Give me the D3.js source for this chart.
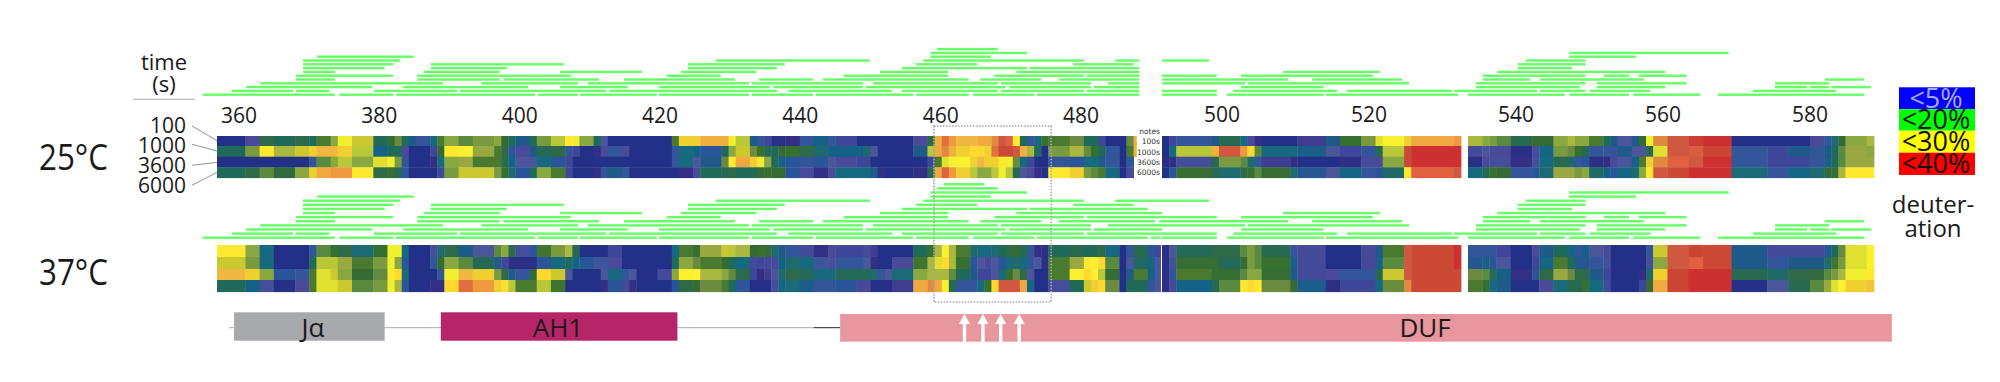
<!DOCTYPE html>
<html><head><meta charset="utf-8">
<script src="https://cdnjs.cloudflare.com/ajax/libs/d3/7.8.5/d3.min.js"></script>
<style>html,body{margin:0;padding:0;background:#fff}svg{display:block}text{font-family:"Open Sans",sans-serif;fill:#1a1a1a}</style>
</head><body><div id="c"></div>
<script>
// ---------- DATA ----------
const residueTicks=[360,380,400,420,440,460,480,500,520,540,560,580];
const timeLabels=["100","1000","3600","6000"];
const noteLabels=["notes","100s","1000s","3600s","6000s"];
const segmentStarts=[357,490,533];
const legendLabels=["<5%","<20%","<30%","<40%"];
const domains=[{name:"Jα",from:359.4,to:380.6},{name:"AH1",from:388.5,to:421.8},{name:"DUF",from:444.7,to:592.5}];
const linkerSpans=[[358.7,359.4],[380.6,388.5],[421.8,441]];
const linkerDark=[441,444.7];
const arrowResidues=[462.2,464.8,467.3,469.9];
const boxSpan=[457.9,474.4];

// deuteration (%), written as value,run pairs per residue; one list per contiguous block
const d25_100=[[0,4,3,2,14,2,12,3,14,2,12,1,17,2,21,1,27,2,25,3,12,2,15,1,19,1,12,1,8,1,6,2,10,1,17,1,21,2,18,2,20,3,21,1,15,1,12,1,8,2,12,1,20,2,24,2,28,1,27,1,21,2,12,1,5,1,0,9,17,1,29,3,31,4,27,1,24,2,8,1,6,1,4,1,1,2,2,2,6,2,9,2,6,1,4,3,0,8,3,2,14,1,31,1,35,1,33,1,30,3,32,2,34,1,37,1,36,1,28,1,12,1,6,1,10,1,16,1,17,3,19,2,12,2,4,1,0,3,19,1,31,0.4],
[0,1,4,1,6,5,8,1,13,3,10,1,3,1,2,1,0,5,2.5,4,8,2,16,3,20,2,26,1,27.5,3,29,1,32,6,33,1],
[23,2,21,1,20,1,18,2,13,3,15,3,21,2,23,1,21,2,17,2,12,1,8,1,5,2,8,1,15,1,27,1,34,2,37,3,39,2,40,4,0,11,3,2,6,1,11,1,15,1,21,3,23,1]];
const d25_1000=[[12,4,20,2,28,2,23,3,25,2,29,1,30,3,29,2,24,3,9,2,12,2,3,1,0,3,4,1,15,1,28,2,27.5,2,22,3,17,1,14,1,7,1,3,2,8,1,13,2,14,2,6,1,4,1,0,2,2,1,3,1,6,2,3,1,0,6,6,1,10,2,9,1,7,3,12,1,21,1,25,2,19,1,16,1,13,1,12,1,15,1,16,2,14,2,11,2,9,5,11,1,5,1,0,5,8,2,24,1,32,1,34,1,31,1,29,2,28.5,2,29,1,35,1,38,2,37,1,31,1,23,1,12,1,0,1,20,3,23,2,19,1,16,1,12,1,6,2,0,1,17,1,31,0.4],
[0,1,10,1,24,5,31,1,37,3,33,1,28.5,1,18,1,10,5,8.5,4,5,2,4,3,6,2,13,1,24,3,38,1,40,7],
[3.5,2,5,1,3,3,1,3,3,1,9.5,2,20,2,19,1,16,1,13,1,6,2,6,2,8,2,5,2,13,1,26,2,37,3,36.5,2,38.5,4,6,5,4,3,8,3,6,2,8,1,12,1,18,1,22,3,21,1]];
const d25_3600=[[0,13,6,1,18,2,21,1,24,2,21,3,26,2,27,1,20,1,6,1,0,3,2,1,10,1,21,2,22,2,17,4,14,1,9,1,5,3,10,2,7,2,4,1,0,14,6,1,10,2,5,1,8,3,19,1,28,1,32,2,29,1,28,1,21,1,12,1,9,1,7,2,6,2,7,2,5,1,3,3,4,2,0,8,4,1,17,1,26,1,27.5,3,29,1,30,1,29,2,28,1,27,1,19,1,10,1,4,1,0,2,6,3,7,2,10,2,8,1,6,2,0,1,6,1],
[1,1,2,1,4.5,5,13,1,20,3,18,1,11,1,6,1,2.5,4,2,1,0,6,1.5,3,3,3,21,3,38,1,40,7],
[1,2,3,1,4.5,3,2,3,4.5,1,10,2,13,2,11,1,6,1,7,1,1,2,2,1,3,1,5,2,9,1,17,1,29,1,34,2,36,3,37,2,40,4,6,5,4,6,6,2,8.5,1,12,1,18,1,22,4]];
const d25_6000=[[12,4,14,2,18,2,14.5,3,21,2,29,1,32,2,33,3,28,3,14,2,16,1,13,1,6,1,0,4,4,1,20,2,25,5,20,1,16,1,11,1,7,2,12,1,21,2,17,2,4,1,0,3,2,1,6,1,8,2,6,1,0,7,2,2,3,1,12,3,13,1,14,1,12,3,15,1,16,1,15,2,7,2,3,2,2,2,3,1,10,4,10,1,8,1,2,1,0,4,2,2,13,1,32,1,36,1,33,1,29,2,24,1,21,2,24,1,27,1,24,1,13,1,5,1,3,1,2,1,0,1,28,3,29,2,20,1,18,1,17,1,10,2,0,1,3,1],
[0,1,7,1,15.5,5,13,1,11,3,14,1,16,1,18,1,15.5,4,11,1,7.5,4,5,2,9.5,3,6,2,7,1,11.5,3,28,1,36,6,37,1],
[10,2,12,1,16,1,15,2,6,3,7,1,11,2,22,3,20,1,21,1,11.5,2,9,1,7,1,9.5,2,11,1,21,1,28,1,37,2,38,3,40,6,10.5,5,6,3,9.5,3,11,2,14,1,16,1,23,1,28,4]];

const d37_100=[[28,4,21,2,10,2,0,5,6,1,18,2,16,1,14,2,10.5,3,16,2,27,2,10,1,0,3,4.5,1,11,1,14,2,8,2,5,3,18,1,21,1,14,1,4.5,2,7,1,16.5,2,20,2,23,1,13,1,0,4,4,2,0,7,10,1,17,2,16,1,22,3,25,1,24,1,23,2,15,1,16,1,15,1,11,1,8,1,6,2,3.5,2,2,2,3,1,4,4,3,1,2.5,1,0,5,12,2,16,1,23,1,27.5,1,23,1,17,2,11,1,10,2,11,1,12,1,14,1,15,1,13,1,6,1,2,1,1.5,1,12,3,13,2,12,2,14,1,10,2,0,1,6,1,13,2,7,1,4,0.8],
[1,1,5,1,12.5,5,14,4,18,1,20,1,18,1,13,4,6,1,3.5,4,0,5,3.5,2,8,1,17,3,37,1,38,6,40,1],
[6,4,4,2,0,3,3,1,8,2,12,2,9.5,1,6,1,9,1,5,2,3,1,0,5,6,1,25,2,37,3,38.5,2,38,4,8,5,3.5,8,7,1,12,1,19,1,26,3,27.5,1]];
const d37_1000=[[25,4,20,2,10,2,0,5,12,1,24,2,24,1,22,2,17,3,20,2,27,1,21,1,7,1,0,3,6,1,15,1,21,2,18,2,12.5,3,8,1,4,1,1,4,7,2,10,2,12,1,9,1,7.5,2,5.5,2,3,2,0,7,12,1,21,2,19,1,17,3,15,1,12,1,10,2,3.5,1,4,1,3.5,1,3,1,9,1,11,2,10,2,5.5,2,4.5,1,6,4,5,1,2,1,0,2,3,3,16.5,2,23,1,26,1,28.5,1,23,1,16,2,7,1,5,1,3.5,1,5,1,7,1,10,1,11,1,10,1,6,1,5,1,1,1,17,3,22,2,28,1,27.5,1,28.5,1,18,2,0,1,5,1,11.5,2,9.5,1,5,0.8],
[1,1,5.5,1,15.5,6,12.5,3,15.5,1,20,1,18,1,16,4,8.5,1,3.5,4,0,5,3.5,2,8.5,1,18,3,37,1,38,6,40,1],
[7.5,2,8.5,1,7,1,5,2,0,3,4,1,9.5,2,17,2,12,1,7.5,2,6,2,4.5,1,0,5,4.5,1,21,2,37,3,36,2,38,4,8,5,6,3,8,5,11,1,16.5,1,20,1,26,3,27.5,1]];
const d37_3600=[[30,4,29,2,21,2,7,3,6,2,17,1,26,2,25,1,21,2,15,3,18.5,2,28,1,28.5,1,10.5,1,0,4,6,1,27,2,30,2,29,3,20,1,14,1,8,1,6,2,14.5,1,28.5,2,25,2,5,1,0,4,5,1,10,2,6,1,5,1,0,3,3.5,2,21,1,27.5,2,27.8,1,23,3,21,1,18.5,1,13.5,2,4,1,2,1,2.5,1,5,1,11,1,14,2,12.5,2,10,3,12.5,5,11,1,6,1,5,1,10.5,3,21,2,23,1,23,2,18.5,1,12,2,8,1,4,2,5,1,10,1,16,1,19,1,14,1,5,1,0,2,17,3,27.5,2,28.5,1,27.8,1,24,1,15.5,2,0,1,8,1,17,2,9,1,5,0.8],
[1,1,6,1,17,5,16,1,15.5,3,18,1,21,2,15.5,4,8,1,3.5,4,3,2,6,5,13,1,25,3,37,1,38,7],
[19,2,18,1,13,1,9,2,2,3,7,1,14,2,22,2,19,1,14,2,8,2,4,1,0,4,2,1,11,1,29,2,38.5,3,40,6,13,5,11.5,3,14,3,14.5,2,18,1,20,1,23,1,27,3,28,1]];
const d37_6000=[[12,4,9,2,4.5,2,0.5,3,3,2,17,1,26,3,25,2,18,3,20,2,27,1,23,1,7,1,0,3,2,2,28.5,2,35,2,33,3,29,1,28.3,1,24,1,17,3,24,2,16.5,2,0,5,2,1,7,2,3.5,1,2,1,0,5,7,1,14,2,15,1,19,3,17,1,12,1,6.5,2,0,3,3,1,9.5,1,10.5,2,8.5,2,6,3,7,3,3.5,1,3.2,1,0.5,3,2.5,3,32,2,34,1,32,1,27.5,1,13,1,6,3,10,1,16,1,28.5,1,37,3,32,1,9.5,1,0,2,4.5,3,12,2,25,1,29,1,28.5,1,19,2,0,1,12,3,6,1,5,0.8],
[1,1,3.5,1,9,5,13,1,18,3,28,1,28.5,1,28,1,19,4,15,1,8.5,4,1.5,2,4,5,10,1,19,3,34,1,38,7],
[17,2,16,1,10,1,8,2,0,4,3,2,10.5,2,13,2,16,1,10,2,3.5,1,0,4,4,1,15,1,32,2,38.5,3,40,6,0.5,5,5,3,13,3,18,2,22,1,26,1,27.8,1,29,3,29.5,1]];

// peptides as start,end residue pairs, one list per stacking level (bottom first)
const pepLevel0=[355,373.6,374.2,381.8,382.2,401.8,402.2,407.8,408.1,418.9,419.2,431.9,432.3,440.9,441.3,455,455.4,462.8,463.4,472,472.4,488,488.4,489.8,490,497.7,499.1,512.7,513,531.6,533,546.6,547.2,555.6,556.2,565.6,568.1,588.6];
const pepLevel1=[359.1,367.7,368.1,372.8,379.1,390.8,391.2,411.8,412.2,435.8,437.4,452,453.4,466.9,467.3,479,479.4,497.7,500,514.6,516,530.7,531,542.7,543.1,549.5,550.1,558.6,573,584.7];
const pepLevel2=[361.1,378.8,383.2,400.8,405.3,414.8,419.2,434.8,435.3,447.9,448.3,468,468.5,480,480.4,490,501.1,512.7,534.1,548.7,551.1,560.7,576.1,580.6,581,583.7,584,589.6];
const pepLevel3=[363.1,388.8,394.2,407.8,409.2,431.9,432.3,447.9,449.3,466.9,467.3,480,482.4,501.7,502.1,524.7,534.1,549.5,551.1,563.7,576.1,583.7];
const pepLevel4=[368.1,373.6,385.2,396.8,397.3,410.8,414.3,429.9,433.3,440.9,442.3,462.8,464.4,473,475.5,489,489.6,507.7,511.1,523.7,535.1,541.7,543.1,557.7,583.1,588.6];
const pepLevel5=[368.1,381.8,385.2,406.8,420.3,427.9,445.2,459.9,466.4,479,479.4,497.7,501.1,519.6,535.1,549.5,552.1,555.6,557,563.7];
const pepLevel6=[369.1,373.6,386.1,396.8,405.3,416.8,422.3,432.9,450.3,459.9,469.5,490,507,520.6,537.1,560.7];
const pepLevel7=[369.1,380.6,387.1,397.8,423.3,435.8,453.4,471,471.4,488,540,547.6];
const pepLevel8=[369.1,381.8,387.1,405.8,423.3,436.9,455.4,464,477.5,486,540,549.5];
const pepLevel9=[369.1,382.8,427.2,448.9,456.4,479,483.4,496.6,541.1,549.5];
const pepLevel10=[371.1,384.7,457.4,465.9,547.2,556.6];
const pepLevel11=[457.4,471,547.2,569.6];
const pepLevel12=[458.3,466.9];
const pepLevel13Only37=[459.3,465];
const gapOnly25=[486.8,490];

// ---------- SCALES ----------
const W=2000,H=382;
const svg=d3.select("#c").append("svg").attr("width",W).attr("height",H);
const x=d3.scaleLinear().domain([357,490,532,533,590]).range([217,1162,1461,1468,1874]);
const tickX=d3.scaleLinear().domain([360,480,500,580]).range([239,1081,1222,1810]);
const colour=d3.scaleLinear()
 .domain([0,2,3,4,5,6,7,8,9,10,11,12,14,15,16,17,18,19,20,21,22,23,24,25,26,27,27.8,28,28.5,29,30,32,33,34,35,36,37,38,40])
 .range(["#233087","#332f85","#4a4a9a","#3f479a","#4a559a","#33559a","#2a559a","#1f5a8a","#146288","#16697f","#1f6a70","#206a5a","#2f6a48","#356a35","#357030","#4a7a30","#5a8a40","#6a8a40","#7a9a40","#8aa840","#99a840","#aab840","#b8c838","#ccc830","#e0e030","#f0f030","#fff030","#ffe830","#ffd830","#f0d030","#f0b840","#f0a840","#f09a40","#e08a40","#e07040","#e06040","#d05840","#cc4a35","#cc3030"]);

// ---------- HEATMAPS ----------
function heat(rows,yEdges){
 rows.forEach((blocks,r)=>{
  blocks.forEach((pairs,b)=>{
   let pos=segmentStarts[b];
   const cells=[];
   for(let i=0;i<pairs.length;i+=2){cells.push({v:pairs[i],a:pos,b:pos+pairs[i+1]});pos+=pairs[i+1];}
   svg.append("g").selectAll("rect").data(cells).join("rect")
    .attr("x",d=>x(d.a)).attr("width",d=>x(d.b)-x(d.a)+0.4)
    .attr("y",yEdges[r]).attr("height",yEdges[r+1]-yEdges[r]+0.4)
    .attr("fill",d=>colour(d.v)).attr("shape-rendering","geometricPrecision");
  });
 });
}
heat([d25_100,d25_1000,d25_3600,d25_6000],[136,146,156.7,167.3,177.7]);
heat([d37_100,d37_1000,d37_3600,d37_6000],[245,257,269,280,291.7]);

// ---------- PEPTIDES ----------
const levels=[pepLevel0,pepLevel1,pepLevel2,pepLevel3,pepLevel4,pepLevel5,pepLevel6,pepLevel7,pepLevel8,pepLevel9,pepLevel10,pepLevel11,pepLevel12];
function peptides(lv,y0,step,cut){
 lv.forEach((arr,l)=>{
  const spans=[];
  for(let i=0;i<arr.length;i+=2){
   const s=arr[i],e=arr[i+1];
   if(cut&&e>cut[0]&&s<cut[1]){
    if(s<cut[0])spans.push([s,cut[0]]);
    if(e>cut[1])spans.push([cut[1],e]);
   } else spans.push([s,e]);
  }
  svg.append("g").selectAll("rect").data(spans).join("rect")
   .attr("x",d=>x(d[0])).attr("width",d=>x(d[1])-x(d[0]))
   .attr("y",y0-step*l-1.2).attr("height",2.4).attr("fill","#66ff66");
 });
}
peptides(levels,94.7,3.8,gapOnly25);
peptides(levels.concat([pepLevel13Only37]),237.7,4.11,null);

// ---------- TICK LABELS ----------
svg.append("g").selectAll("text").data(residueTicks).join("text")
 .attr("x",d=>tickX(d)).attr("y",d=>d<=480?122.5:121.5).attr("text-anchor","middle").attr("font-size",21).text(d=>d);

// time labels + leaders
const labelBase=[133,153,173,193];
const leftEnds=[[126,140.7],[144.3,151],[165.3,162.3],[185.3,172.3]];
svg.append("g").selectAll("text").data(timeLabels).join("text")
 .attr("x",186).attr("y",(d,i)=>labelBase[i]).attr("text-anchor","end").attr("font-size",21).text(d=>d);
svg.append("g").selectAll("line").data(leftEnds).join("line")
 .attr("x1",192).attr("x2",217).attr("y1",d=>d[0]).attr("y2",d=>d[1]).attr("stroke","#888").attr("stroke-width",0.9);

svg.append("text").attr("x",164).attr("y",70).attr("text-anchor","middle").attr("font-size",22).text("time");
svg.append("text").attr("x",164).attr("y",92).attr("text-anchor","middle").attr("font-size",22).text("(s)");
svg.append("line").attr("x1",133).attr("x2",195).attr("y1",99.3).attr("y2",99.3).attr("stroke","#aaa").attr("stroke-width",1);

svg.append("text").attr("x",39).attr("y",170).attr("font-size",36).attr("textLength",69).attr("lengthAdjust","spacingAndGlyphs").text("25°C");
svg.append("text").attr("x",39).attr("y",285).attr("font-size",36).attr("textLength",69).attr("lengthAdjust","spacingAndGlyphs").text("37°C");

// notes
const noteBase=[133.5,144,155,165,175];
svg.append("g").selectAll("text").data(noteLabels).join("text")
 .attr("x",1160).attr("y",(d,i)=>noteBase[i]).attr("text-anchor","end").attr("font-size",7.5).style("font-family","'DejaVu Sans',sans-serif").style("fill","#333").text(d=>d);

// dotted box
svg.append("rect").attr("x",x(boxSpan[0])).attr("y",126).attr("width",x(boxSpan[1])-x(boxSpan[0])).attr("height",176)
 .attr("fill","none").attr("stroke","#a8a8a8").attr("stroke-width",1.6).attr("stroke-dasharray","1.6 1.4");

// legend
const legendColours=["#0000ff","#00ff00","#ffff00","#ff0000"];
const legendY=[87.3,109.3,130.7,152.7,175];
const legendBase=[108,129,151,172.7];
svg.append("g").selectAll("rect").data(legendLabels).join("rect")
 .attr("x",1899).attr("width",76).attr("y",(d,i)=>legendY[i]).attr("height",(d,i)=>legendY[i+1]-legendY[i]).attr("fill",(d,i)=>legendColours[i]);
svg.append("g").selectAll("text").data(legendLabels).join("text")
 .attr("x",1936).attr("y",(d,i)=>legendBase[i]).attr("text-anchor","middle").attr("font-size",27).style("fill",(d,i)=>i==0?"#a9a9f0":"#111").text(d=>d);
svg.append("text").attr("x",1933).attr("y",212.7).attr("text-anchor","middle").attr("font-size",24).text("deuter-");
svg.append("text").attr("x",1933).attr("y",236.7).attr("text-anchor","middle").attr("font-size",24).text("ation");

// domain strip
const domainStyle={"Jα":["#a8a9ad",312.3,340.7],"AH1":["#b62567",312.3,340.7],"DUF":["#e9979f",314,341.7]};
svg.append("g").selectAll("line").data(linkerSpans).join("line")
 .attr("x1",d=>x(d[0])).attr("x2",d=>x(d[1])).attr("y1",327.7).attr("y2",327.7).attr("stroke","#aaa").attr("stroke-width",1);
svg.append("line").attr("x1",x(linkerDark[0])).attr("x2",x(linkerDark[1])).attr("y1",327.7).attr("y2",327.7).attr("stroke","#222").attr("stroke-width",1);
svg.append("g").selectAll("rect").data(domains).join("rect")
 .attr("x",d=>x(d.from)).attr("width",d=>x(d.to)-x(d.from))
 .attr("y",d=>domainStyle[d.name][1]).attr("height",d=>domainStyle[d.name][2]-domainStyle[d.name][1])
 .attr("fill",d=>domainStyle[d.name][0]);
const domainLabelX={"Jα":313,"AH1":558,"DUF":1425};
svg.append("g").selectAll("text").data(domains).join("text")
 .attr("x",d=>domainLabelX[d.name]).attr("y",336.5).attr("text-anchor","middle").attr("font-size",26).text(d=>d.name);

// arrows
const arrows=svg.append("g").selectAll("g").data(arrowResidues).join("g").attr("transform",d=>`translate(${x(d)},0)`);
arrows.append("rect").attr("x",-1.7).attr("width",3.4).attr("y",320).attr("height",22).attr("fill","#fff");
arrows.append("path").attr("d","M0,314L5.5,324L-5.5,324Z").attr("fill","#fff");
</script></body></html>
